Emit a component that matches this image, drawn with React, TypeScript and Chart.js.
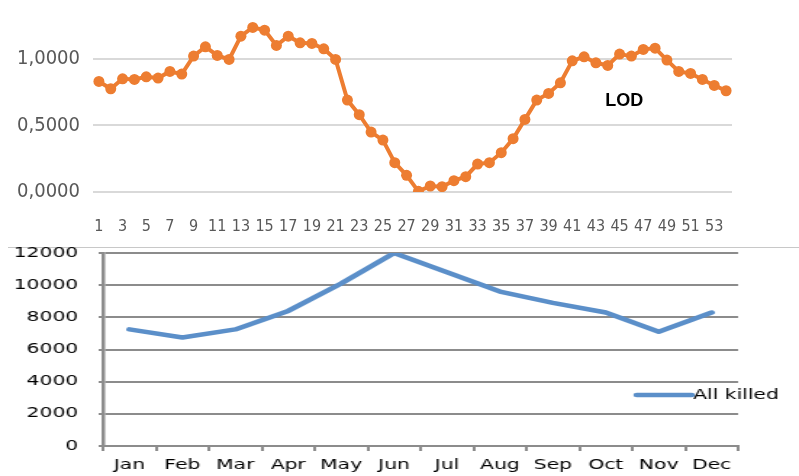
import { useEffect, useRef } from "react";
import { Chart, registerables } from "chart.js";

Chart.register(...registerables);

// ---- Top chart data (LOD per week) ----
const weekLabels = [
  "1", "2", "3", "4", "5", "6", "7", "8", "9", "10",
  "11", "12", "13", "14", "15", "16", "17", "18", "19", "20",
  "21", "22", "23", "24", "25", "26", "27", "28", "29", "30",
  "31", "32", "33", "34", "35", "36", "37", "38", "39", "40",
  "41", "42", "43", "44", "45", "46", "47", "48", "49", "50",
  "51", "52", "53", "54",
];
const lodValues = [
  0.83, 0.775, 0.85, 0.845, 0.865, 0.855, 0.905, 0.885, 1.02, 1.09,
  1.025, 0.995, 1.17, 1.235, 1.215, 1.1, 1.17, 1.12, 1.115, 1.075,
  0.995, 0.69, 0.58, 0.45, 0.39, 0.22, 0.125, 0.005, 0.045, 0.04,
  0.085, 0.115, 0.21, 0.22, 0.295, 0.4, 0.545, 0.69, 0.74, 0.82,
  0.985, 1.015, 0.97, 0.95, 1.035, 1.02, 1.07, 1.08, 0.99, 0.905,
  0.89, 0.845, 0.8, 0.76,
];
const lodTicks = [0, 0.5, 1.0];
const lodSeriesName = "LOD";

// ---- Bottom chart data (All killed per month) ----
const months = ["Jan", "Feb", "Mar", "Apr", "May", "Jun", "Jul", "Aug", "Sep", "Oct", "Nov", "Dec"];
const allKilled = [7250, 6750, 7250, 8400, 10100, 12000, 10800, 9600, 8900, 8300, 7100, 8300];
const killedTicks = [0, 2000, 4000, 6000, 8000, 10000, 12000];
const killedSeriesName = "All killed";

const NARROW = "'Liberation Sans Narrow', 'DejaVu Sans Condensed', 'Liberation Sans', sans-serif";
const WIDE = "'DejaVu Sans', Verdana, sans-serif";

const BOTTOM_CANVAS_W = 551;
const BOTTOM_CANVAS_H = 236;

export default function App() {
  const topRef = useRef<HTMLCanvasElement>(null);
  const botRef = useRef<HTMLCanvasElement>(null);

  useEffect(() => {
    const lodLabel = {
      id: "lodLabel",
      afterDatasetsDraw(chart: any) {
        const { ctx, scales } = chart;
        ctx.save();
        ctx.font = "bold 18px 'Liberation Sans', sans-serif";
        ctx.fillStyle = "#000000";
        ctx.textAlign = "center";
        ctx.textBaseline = "middle";
        ctx.fillText(lodSeriesName, scales.x.getPixelForValue(44.4), scales.y.getPixelForValue(0.68));
        ctx.restore();
      },
    };

    const top = new Chart(topRef.current as HTMLCanvasElement, {
      type: "line",
      data: {
        labels: weekLabels,
        datasets: [
          {
            label: lodSeriesName,
            data: lodValues,
            borderColor: "#ed7d31",
            backgroundColor: "#ed7d31",
            borderWidth: 4,
            pointRadius: 5.5,
            pointHoverRadius: 5.5,
            pointBorderWidth: 0,
            tension: 0,
          },
        ],
      },
      options: {
        responsive: false,
        animation: false,
        events: [],
        layout: { padding: { top: 0, right: 67, bottom: 0, left: 0 } },
        plugins: { legend: { display: false }, tooltip: { enabled: false } },
        scales: {
          x: {
            offset: true,
            grid: { display: false, drawTicks: false },
            border: { display: false },
            ticks: {
              autoSkip: false,
              maxRotation: 0,
              minRotation: 0,
              padding: 25,
              color: "#595959",
              font: { family: NARROW, size: 16 },
              callback: (_v: any, i: number) => (i % 2 === 0 ? weekLabels[i] : ""),
            },
            afterFit: (s: any) => {
              s.height = 52;
            },
          },
          y: {
            min: 0,
            max: 1.4,
            grid: { color: "#d9d9d9", lineWidth: 2, drawTicks: false },
            border: { display: false },
            ticks: {
              padding: 13,
              color: "#595959",
              font: { family: NARROW, size: 20 },
              callback: (v: any) => Number(v).toFixed(4).replace(".", ","),
            },
            afterBuildTicks: (s: any) => {
              s.ticks = lodTicks.map((v) => ({ value: v }));
            },
            afterFit: (s: any) => {
              s.width = 93;
              s.paddingTop = 0;
            },
          },
        },
      },
      plugins: [lodLabel],
    } as any);

    const legendPlugin = {
      id: "insideLegend",
      afterDraw(chart: any) {
        const { ctx, chartArea } = chart;
        const y = chartArea.top + 142;
        ctx.save();
        ctx.strokeStyle = "#5b8fc9";
        ctx.lineWidth = 4.5;
        ctx.lineCap = "round";
        ctx.beginPath();
        ctx.moveTo(chartArea.right - 70, y);
        ctx.lineTo(chartArea.right - 32, y);
        ctx.stroke();
        ctx.fillStyle = "#000000";
        ctx.font = `14px ${WIDE}`;
        ctx.textAlign = "left";
        ctx.textBaseline = "middle";
        ctx.fillText(killedSeriesName, chartArea.right - 31, y);
        ctx.restore();
      },
    };

    const bot = new Chart(botRef.current as HTMLCanvasElement, {
      type: "line",
      data: {
        labels: months,
        datasets: [
          {
            label: killedSeriesName,
            data: allKilled,
            borderColor: "#5b8fc9",
            backgroundColor: "#5b8fc9",
            borderWidth: 4.5,
            pointRadius: 0,
            pointHoverRadius: 0,
            tension: 0,
            borderCapStyle: "round",
            borderJoinStyle: "round",
          },
        ],
      },
      options: {
        responsive: false,
        animation: false,
        events: [],
        layout: { padding: { top: 13, right: 42, bottom: 0, left: 0 } },
        plugins: { legend: { display: false }, tooltip: { enabled: false } },
        scales: {
          x: {
            offset: true,
            grid: {
              offset: true,
              drawOnChartArea: false,
              drawTicks: true,
              tickLength: 5,
              color: "#8c8c8c",
              lineWidth: 2,
            },
            border: { display: true, color: "#8c8c8c", width: 2 },
            ticks: {
              autoSkip: false,
              maxRotation: 0,
              minRotation: 0,
              padding: 6,
              color: "#000000",
              font: { family: WIDE, size: 14 },
            },
            afterFit: (s: any) => {
              s.height = 30;
            },
          },
          y: {
            min: 0,
            max: 12000,
            grid: { color: "#8c8c8c", lineWidth: 2, tickLength: 3 },
            border: { display: true, color: "#8c8c8c", width: 2.5 },
            ticks: {
              padding: 14,
              color: "#000000",
              font: { family: WIDE, size: 14 },
              callback: (v: any) => String(v),
            },
            afterBuildTicks: (s: any) => {
              s.ticks = killedTicks.map((v) => ({ value: v }));
            },
            afterFit: (s: any) => {
              s.width = 71;
              s.paddingTop = 0;
            },
          },
        },
      },
      plugins: [legendPlugin],
    } as any);

    return () => {
      top.destroy();
      bot.destroy();
    };
  }, []);

  return (
    <div
      style={{
        position: "absolute",
        left: 0,
        top: 0,
        width: 799,
        height: 476,
        background: "#ffffff",
        overflow: "hidden",
      }}
    >
      <div
        style={{
          position: "absolute",
          left: 8,
          top: 247,
          width: 791,
          height: 1,
          background: "#c8c8c8",
        }}
      />
      <canvas
        ref={topRef}
        width={799}
        height={244}
        style={{ position: "absolute", left: 0, top: 0, width: 799, height: 244 }}
      />
      <canvas
        ref={botRef}
        width={BOTTOM_CANVAS_W}
        height={BOTTOM_CANVAS_H}
        style={{ position: "absolute", left: 0, top: 240, width: 799, height: BOTTOM_CANVAS_H }}
      />
    </div>
  );
}
